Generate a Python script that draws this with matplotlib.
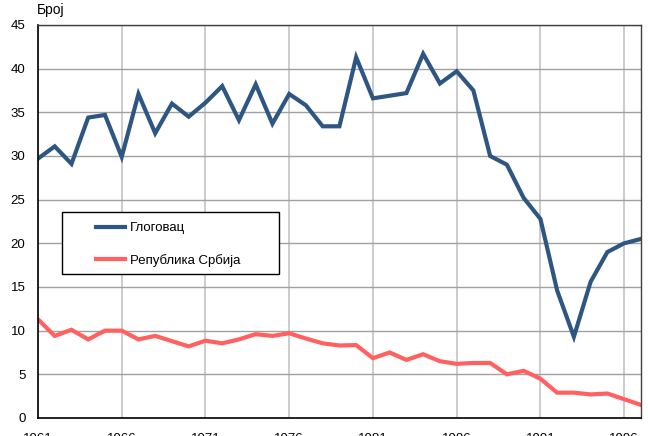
import matplotlib.pyplot as plt
from matplotlib.patches import Rectangle

plt.rcParams['font.family'] = ['Liberation Sans', 'DejaVu Sans']

years = list(range(1961, 1998))
glogovac = [29.7, 31.1, 29.1, 34.4, 34.7, 29.9, 37.1, 32.6, 36.0, 34.5,
            36.1, 38.0, 34.1, 38.2, 33.7, 37.1, 35.8, 33.4, 33.4, 41.3,
            36.6, 36.9, 37.2, 41.7, 38.3, 39.7, 37.5, 30.0, 29.0, 25.2,
            22.8, 14.6, 9.3, 15.6, 19.0, 20.0, 20.5]
srbija = [11.3, 9.4, 10.1, 9.0, 10.0, 10.0, 9.0, 9.4, 8.8, 8.2,
          8.85, 8.55, 9.0, 9.6, 9.4, 9.7, 9.1, 8.55, 8.3, 8.35,
          6.85, 7.5, 6.65, 7.3, 6.5, 6.2, 6.3, 6.3, 5.0, 5.4,
          4.5, 2.9, 2.9, 2.7, 2.8, 2.15, 1.5]
labels = ['Глоговац', 'Република Србија']
xticks = list(range(1961, 1997, 5))

fig = plt.figure(figsize=(6.48, 4.36), dpi=100)
ax = fig.add_axes([0.0586, 0.0413, 0.9304, 0.9014])

ax.plot(years, glogovac, color='#2e5683', lw=3.0, label=labels[0], solid_joinstyle='miter')
ax.plot(years, srbija, color='#ff6060', lw=3.0, label=labels[1], solid_joinstyle='miter')

ax.set_xlim(1961, 1997)
ax.set_ylim(0, 45)
ax.set_yticks(range(0, 46, 5))
ax.set_xticks(xticks)
ax.tick_params(length=0, labelsize=9.5)
ax.tick_params(axis='y', pad=9)
ax.tick_params(axis='x', pad=10.5)

ax.grid(axis='x', color='#c8c8c8', lw=1.3)
ax.grid(axis='y', color='#a0a0a0', lw=1.0)
ax.set_axisbelow(True)
for s in ['left', 'bottom']:
    ax.spines[s].set_color('black')
    ax.spines[s].set_linewidth(1.2)
for s in ['top', 'right']:
    ax.spines[s].set_color('#404040')
    ax.spines[s].set_linewidth(1.0)

fig.text(37 / 648, 1 - 10 / 436, 'Број', fontsize=10, va='center', ha='left')

# legend box drawn separately so the padding matches the reference
ax.add_patch(Rectangle(((62 - 38) / 603, (418 - 274) / 393), 217 / 603, 62 / 393,
                       transform=ax.transAxes, facecolor='white', edgecolor='black',
                       lw=1.0, zorder=5))
leg = ax.legend(loc='center left', bbox_to_anchor=((96 - 38) / 603, (418 - 244.5) / 393),
                fontsize=9.5, frameon=False, handlelength=2.2,
                borderpad=0, labelspacing=1.5, handletextpad=0.4,
                borderaxespad=0)
leg.set_zorder(6)

fig.savefig('out.png', dpi=100)
